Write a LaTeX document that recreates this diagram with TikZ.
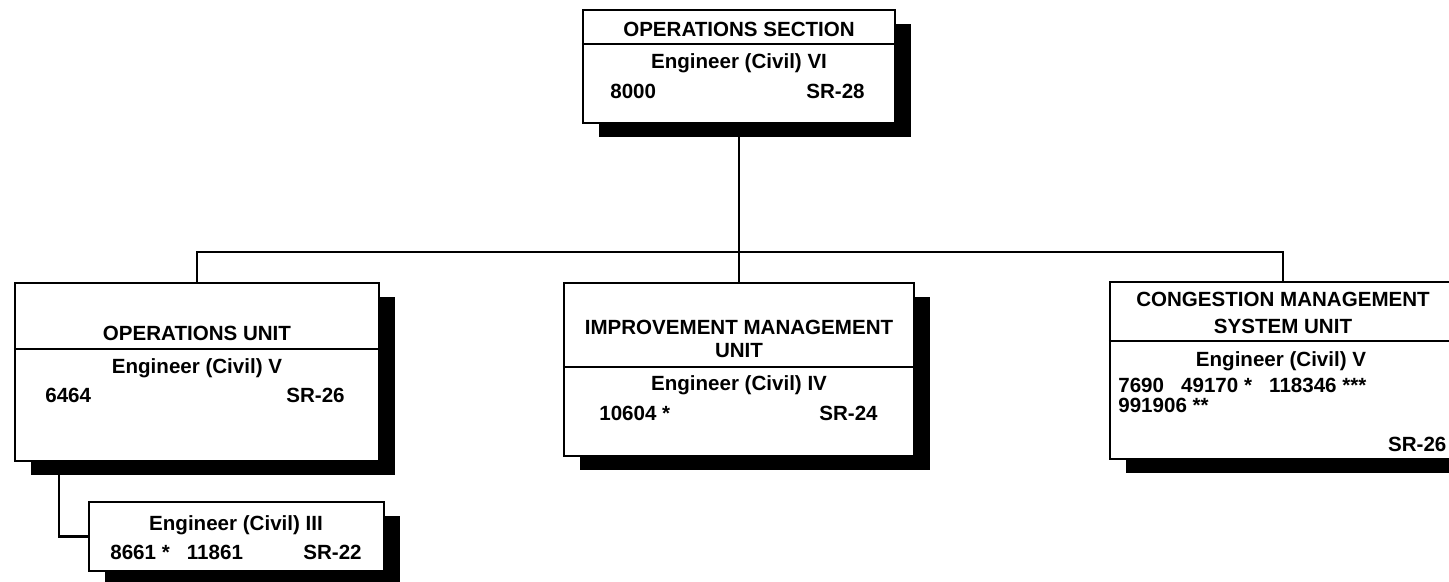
\documentclass[tikz,border=0pt]{standalone}
\usepackage{fontspec}
\setmainfont{Liberation Sans}
\usetikzlibrary{calc,positioning,shadows}

\begin{document}
\begin{tikzpicture}[x=0.02cm,y=-0.02cm,
  unit/.style={draw,line width=1.2pt,fill=white,inner sep=0pt,
    drop shadow={shadow xshift=0.32cm,shadow yshift=-0.28cm,fill=black,opacity=1}},
  txt/.style={font=\bfseries\fontsize{11.7}{13}\selectfont,inner sep=0pt},
  link/.style={line width=1.2pt}]
\clip (0,0) rectangle (1449,581);
\coordinate (bus) at (739,252);
\node[unit,minimum width=6.24cm,minimum height=2.26cm] (sect) at (739,66.5) {};
\node[unit,minimum width=7.28cm,minimum height=3.56cm] (opsunit) at (197,372) {};
\node[unit,minimum width=7.0cm,minimum height=3.46cm] (impunit) at (739,369.5) {};
\node[unit,minimum width=6.92cm,minimum height=3.54cm] (cmsunit) at (1283,370.5) {};
\node[unit,minimum width=5.9cm,minimum height=1.38cm] (opsjr) at (236.5,536.5) {};
\draw[link] (sect.south) -- (impunit.north);
\draw[link] (opsunit.north) |- (bus) -| (cmsunit.north);
\draw[link] ($(opsunit.south west)+(45,0)$) |- (opsjr.west);
\draw[link] (sect.west |- 0,44) -- (sect.east |- 0,44);
\draw[link] (opsunit.west |- 0,349) -- (opsunit.east |- 0,349);
\draw[link] (impunit.west |- 0,367) -- (impunit.east |- 0,367);
\draw[link] (cmsunit.west |- 0,341) -- (cmsunit.east |- 0,341);
\node[txt,anchor=base] (sectname) at (739,36.7) {OPERATIONS SECTION};
\node[txt,anchor=base] (secttitle) at (739,68.3) {Engineer (Civil) VI};
\node[txt,anchor=base west] (sectnum) at (610,98.3) {8000};
\node[txt,anchor=base east] (sectsr) at (865,98.3) {SR-28};
\node[txt,anchor=base] (opsname) at (197,340.7) {OPERATIONS UNIT};
\node[txt,anchor=base] (opstitle) at (197,373.3) {Engineer (Civil) V};
\node[txt,anchor=base west] (opsnum) at (45,402.3) {6464};
\node[txt,anchor=base east] (opssr) at (345,402.3) {SR-26};
\node[txt,anchor=base] (jrtitle) at (236,530.7) {Engineer (Civil) III};
\node[txt,anchor=base west] (jrnum) at (110,559.3) {8661 *\ \ \ 11861};
\node[txt,anchor=base east] (jrsr) at (362,559.3) {SR-22};
\node[txt,anchor=base] (impname) at (739,334.3) {IMPROVEMENT MANAGEMENT};
\node[txt,anchor=base] (impname2) at (739,357.3) {UNIT};
\node[txt,anchor=base] (imptitle) at (739,390.7) {Engineer (Civil) IV};
\node[txt,anchor=base west] (impnum) at (599,420) {10604 *};
\node[txt,anchor=base east] (impsr) at (878,420) {SR-24};
\node[txt,anchor=base] (cmsname) at (1283,306.7) {CONGESTION MANAGEMENT};
\node[txt,anchor=base] (cmsname2) at (1283,333.3) {SYSTEM UNIT};
\node[txt,anchor=base] (cmstitle) at (1281,366.7) {Engineer (Civil) V};
\node[txt,anchor=base west] (cmsnum) at (1118,392) {7690\ \ \ 49170 *\ \ \ 118346 ***};
\node[txt,anchor=base west] (cmsnum2) at (1118,412) {991906 **};
\node[txt,anchor=base east] (cmssr) at (1446.7,451.7) {SR-26};
\end{tikzpicture}
\end{document}
